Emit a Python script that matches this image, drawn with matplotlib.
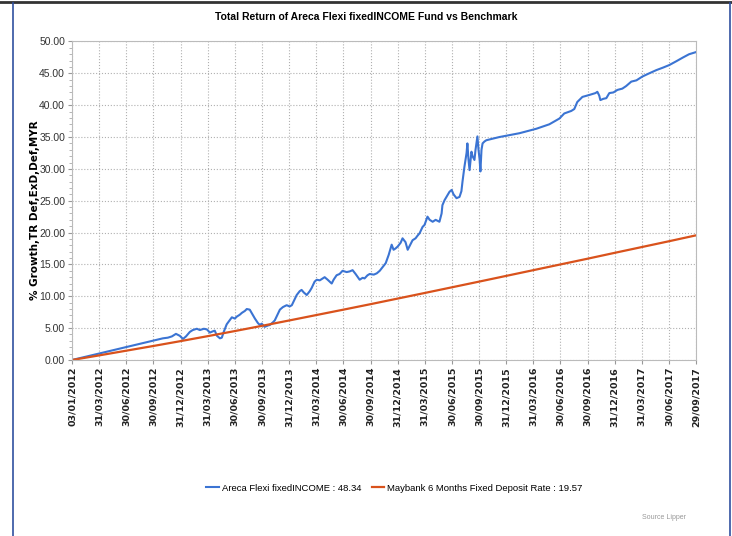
import matplotlib
matplotlib.use('Agg')
import matplotlib.pyplot as plt
from matplotlib.lines import Line2D
from matplotlib.ticker import MultipleLocator

# quarter-end tick labels (equally spaced on the chart)
tick_labels = ['03/01/2012', '31/03/2012', '30/06/2012', '30/09/2012', '31/12/2012',
               '31/03/2013', '30/06/2013', '30/09/2013', '31/12/2013',
               '31/03/2014', '30/06/2014', '30/09/2014', '31/12/2014',
               '31/03/2015', '30/06/2015', '30/09/2015', '31/12/2015',
               '31/03/2016', '30/06/2016', '30/09/2016', '31/12/2016',
               '31/03/2017', '30/06/2017', '29/09/2017']
y_ticks = [0, 5, 10, 15, 20, 25, 30, 35, 40, 45, 50]

# fund: position in quarters since start, % growth
fund_q = [0, 0.99, 1.99, 2.87, 3.35, 3.53, 3.68, 3.83, 3.97, 4.09, 4.20, 4.34, 4.45, 4.60,
          4.71, 4.86, 4.97, 5.08, 5.19, 5.26, 5.34, 5.45, 5.52, 5.59, 5.70, 5.82, 5.89,
          6.00, 6.07, 6.18, 6.26, 6.37, 6.44, 6.55, 6.66, 6.74, 6.85, 6.92, 6.99, 7.10,
          7.21, 7.29, 7.40, 7.47, 7.58, 7.66, 7.77, 7.91, 8.02, 8.10, 8.21, 8.28, 8.39,
          8.46, 8.54, 8.65, 8.76, 8.83, 8.94, 9.02, 9.13, 9.20, 9.31, 9.42, 9.57, 9.64,
          9.75, 9.86, 9.97, 10.12, 10.23, 10.34, 10.45, 10.60, 10.71, 10.78, 10.89, 10.97,
          11.12, 11.23, 11.34, 11.45, 11.56, 11.67, 11.78, 11.85, 11.92, 12.00, 12.11,
          12.18, 12.29, 12.37, 12.48, 12.55, 12.66, 12.73, 12.81, 12.92, 12.99, 13.10,
          13.18, 13.29, 13.40, 13.54, 13.62, 13.65, 13.73, 13.80, 13.91, 13.99, 14.06,
          14.17, 14.28, 14.35, 14.39, 14.46, 14.54, 14.57, 14.61, 14.65, 14.68, 14.72,
          14.76, 14.83, 14.87, 14.94, 14.98, 15.02, 15.05, 15.09, 15.13, 15.20, 15.27,
          15.75, 16.49, 17.11, 17.59, 17.96, 18.14, 18.40, 18.51, 18.62, 18.81, 19.06,
          19.29, 19.36, 19.43, 19.47, 19.58, 19.69, 19.80, 19.95, 20.10, 20.28, 20.42,
          20.61, 20.80, 21.02, 21.27, 21.53, 21.78, 22.01, 22.27, 22.52, 22.74, 23.0]
fund_val = [0, 1.0, 2.0, 2.9, 3.4, 3.5, 3.7, 4.1, 3.8, 3.3, 3.7, 4.4, 4.7, 4.9,
            4.7, 4.9, 4.8, 4.3, 4.5, 4.6, 3.8, 3.4, 3.5, 4.4, 5.6, 6.3, 6.7,
            6.5, 6.8, 7.1, 7.4, 7.7, 8.0, 7.9, 7.1, 6.5, 5.8, 5.5, 5.7, 5.2,
            5.4, 5.5, 5.9, 6.2, 7.2, 7.9, 8.3, 8.6, 8.4, 8.6, 9.6, 10.2, 10.8,
            11.0, 10.6, 10.2, 10.8, 11.3, 12.3, 12.6, 12.5, 12.7, 13.0, 12.6, 12.0, 12.6,
            13.3, 13.5, 14.0, 13.8, 13.9, 14.1, 13.5, 12.6, 12.9, 12.8, 13.3, 13.5,
            13.4, 13.6, 14.0, 14.6, 15.2, 16.5, 18.1, 17.3, 17.5, 17.8, 18.4,
            19.1, 18.5, 17.3, 18.2, 18.8, 19.1, 19.5, 19.9, 20.9, 21.2, 22.5,
            22.0, 21.7, 22.0, 21.7, 23.0, 24.3, 25.1, 25.6, 26.4, 26.7, 26.0,
            25.4, 25.6, 26.5, 28.0, 30.3, 32.5, 34.0, 31.5, 29.8, 31.0, 32.7,
            32.0, 31.4, 33.0, 35.1, 33.0, 31.5, 29.6, 33.0, 34.0, 34.3, 34.5,
            35.0, 35.6, 36.3, 37.0, 37.9, 38.7, 39.1, 39.4, 40.5, 41.3, 41.6,
            41.9, 42.1, 41.5, 40.8, 41.0, 41.1, 41.9, 42.0, 42.4, 42.6, 43.0,
            43.7, 43.9, 44.5, 45.0, 45.5, 45.9, 46.3, 46.9, 47.5, 48.0, 48.34]

# benchmark at each quarter tick
bench_val = [0, 0.72, 1.46, 2.2, 2.96, 3.74, 4.54, 5.36, 6.2, 7.05, 7.9, 8.76, 9.64,
             10.52, 11.41, 12.3, 13.2, 14.1, 15.0, 15.9, 16.82, 17.73, 18.64, 19.57]

fund_name = 'Areca Flexi fixedINCOME : 48.34'
bench_name = 'Maybank 6 Months Fixed Deposit Rate : 19.57'

narrow = ['Liberation Sans', 'DejaVu Sans']

fig = plt.figure(figsize=(7.32, 5.36), dpi=100)
ax = fig.add_axes([0.0984, 0.3284, 0.8526, 0.5942])

l1, = ax.plot(fund_q, fund_val, color='#3b74d3', lw=1.5)
l2, = ax.plot(range(len(bench_val)), bench_val, color='#d9521c', lw=1.6)

ax.set_xticks(range(len(tick_labels)))
ax.set_xticklabels(tick_labels, rotation=90, fontsize=6.8, fontweight='bold',
                   family='DejaVu Sans', color='#222222')
ax.set_yticks(y_ticks)
ax.set_yticklabels(['%.2f' % v for v in y_ticks], family=narrow, fontsize=7.5,
                   color='#333333')
ax.yaxis.set_minor_locator(MultipleLocator(1))
ax.set_xlim(0, 23)
ax.set_ylim(0, 50)
ax.tick_params(axis='both', which='major', length=3, color='#999999', pad=2)
ax.tick_params(axis='y', which='minor', length=2, color='#aaaaaa')
ax.grid(True, which='major', color='#b0b0b0', linestyle=':', linewidth=0.8)
for s in ax.spines.values():
    s.set_color('#bbbbbb')
    s.set_linewidth(0.8)

ax.set_ylabel('% Growth,TR Def,ExD,Def,MYR', fontsize=7.5, fontweight='bold',
              family='DejaVu Sans')
ax.yaxis.set_label_coords(-0.051, 0.47)

fig.text(0.5, 0.968, 'Total Return of Areca Flexi fixedINCOME Fund vs Benchmark',
         ha='center', va='center', fontsize=7.5, fontweight='bold', family=narrow)

leg_kw = dict(loc='center left', frameon=False, handlelength=1.3, handletextpad=0.3,
              borderpad=0, borderaxespad=0, prop={'family': narrow, 'size': 6.8})
fig.legend([l1], [fund_name], bbox_to_anchor=(0.282, 0.089), **leg_kw)
fig.legend([l2], [bench_name], bbox_to_anchor=(0.508, 0.089), **leg_kw)

fig.text(0.937, 0.034, 'Source Lipper', ha='right', va='center', fontsize=5,
         color='#999999', family=narrow)

# frame round the chart
fig.add_artist(Line2D([0, 1], [0.997, 0.997], color='#333333', lw=2,
                      transform=fig.transFigure))
fig.add_artist(Line2D([0.0174, 0.0174], [0, 0.995], color='#3050a0', lw=1.2,
                      transform=fig.transFigure))
fig.add_artist(Line2D([0.9975, 0.9975], [0, 0.995], color='#3050a0', lw=1.2,
                      transform=fig.transFigure))

plt.savefig('out.png', dpi=100)
plt.close()
